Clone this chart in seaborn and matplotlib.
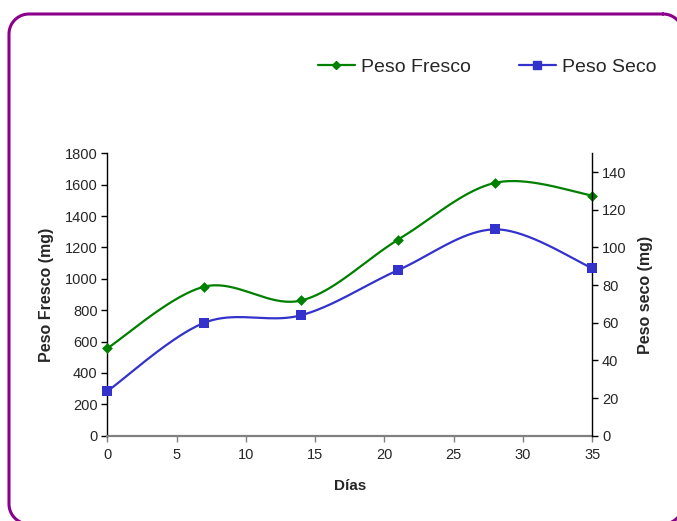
import numpy as np
import pandas as pd
import matplotlib
matplotlib.use("Agg")
import matplotlib.pyplot as plt
from matplotlib.lines import Line2D
import seaborn as sns

# Growth measurements
dias = [0, 7, 14, 21, 28, 35]
peso_fresco = [557, 950, 862, 1250, 1612, 1531]   # mg, left axis
peso_seco = [23.6, 60, 64, 88, 109.6, 89]          # mg, right axis

x_ticks = [0, 5, 10, 15, 20, 25, 30, 35]
y_ticks_fresco = [0, 200, 400, 600, 800, 1000, 1200, 1400, 1600, 1800]
y_ticks_seco = [0, 20, 40, 60, 80, 100, 120, 140]

GREEN = "#008000"
BLUE = "#3333CC"
PURPLE = "#8B008B"

sns.set_style("white")
plt.rcParams["font.family"] = ["Liberation Sans", "DejaVu Sans"]


def smooth_curve(x, y, steps=40):
    """Catmull-Rom style smoothing through every measured point."""
    x = np.asarray(x, float)
    y = np.asarray(y, float)
    px = np.concatenate([[x[0]], x, [x[-1]]])
    py = np.concatenate([[y[0]], y, [y[-1]]])
    xs, ys = [], []
    t = np.linspace(0, 1, steps)
    for i in range(1, len(px) - 2):
        p0 = np.array([px[i], py[i]])
        p3 = np.array([px[i + 1], py[i + 1]])
        c1 = p0 + (np.array([px[i + 1], py[i + 1]]) - np.array([px[i - 1], py[i - 1]])) / 6
        c2 = p3 - (np.array([px[i + 2], py[i + 2]]) - np.array([px[i], py[i]])) / 6
        b = ((1 - t) ** 3)[:, None] * p0 + (3 * (1 - t) ** 2 * t)[:, None] * c1 \
            + (3 * (1 - t) * t ** 2)[:, None] * c2 + (t ** 3)[:, None] * p3
        xs.append(b[:, 0])
        ys.append(b[:, 1])
    return np.concatenate(xs), np.concatenate(ys)


def rounded_rect(x0, y0, x1, y1, r, n=20):
    """Outline of a rounded rectangle in pixel units (y downwards)."""
    pts = []
    corners = [(x1 - r, y0 + r, -90, 0), (x1 - r, y1 - r, 0, 90),
               (x0 + r, y1 - r, 90, 180), (x0 + r, y0 + r, 180, 270)]
    for cx, cy, a0, a1 in corners:
        a = np.radians(np.linspace(a0, a1, n))
        pts.extend(zip(cx + r * np.cos(a), cy + r * np.sin(a)))
    pts.append(pts[0])
    return np.array(pts)


W, H = 677, 521
fig = plt.figure(figsize=(W / 100, H / 100), dpi=100)
fig.patch.set_facecolor("white")

# rounded purple frame around the chart
outline = rounded_rect(9, 14, 683, 524, 20)
fig.add_artist(Line2D(outline[:, 0] / W, 1 - outline[:, 1] / H,
                      transform=fig.transFigure, color=PURPLE, linewidth=2.2,
                      solid_joinstyle="round", zorder=0))

ax = fig.add_axes([107.3 / W, (H - 435.7) / H, (592.3 - 107.3) / W, (435.7 - 153.3) / H])
ax.set_facecolor("none")
ax2 = ax.twinx()

df = pd.DataFrame({"Dias": dias, "Fresco": peso_fresco, "Seco": peso_seco})

sx, sy = smooth_curve(df["Dias"], df["Fresco"])
sns.lineplot(x=sx, y=sy, ax=ax, color=GREEN, linewidth=1.6, sort=False,
             estimator=None, legend=False)
sns.scatterplot(data=df, x="Dias", y="Fresco", ax=ax, color=GREEN, marker="D",
                s=30, edgecolor=GREEN, linewidth=0, zorder=5, legend=False,
                clip_on=False)

bx, by = smooth_curve(df["Dias"], df["Seco"])
sns.lineplot(x=bx, y=by, ax=ax2, color=BLUE, linewidth=1.6, sort=False,
             estimator=None, legend=False)
sns.scatterplot(data=df, x="Dias", y="Seco", ax=ax2, color=BLUE, marker="s",
                s=45, edgecolor=BLUE, linewidth=0, zorder=5, legend=False,
                clip_on=False)

ax.set_xlim(0, 35)
ax.set_ylim(0, 1800)
ax2.set_ylim(0, 150)
ax.set_xticks(x_ticks)
ax.set_yticks(y_ticks_fresco)
ax2.set_yticks(y_ticks_seco)

ax.set_xlabel("Días", fontsize=11, fontweight="bold", labelpad=12)
ax.set_ylabel("Peso Fresco (mg)", fontsize=11.5, fontweight="bold", labelpad=8)
ax2.set_ylabel("Peso seco (mg)", fontsize=11.5, fontweight="bold", labelpad=8)

for a in (ax, ax2):
    for s in a.spines.values():
        s.set_visible(False)
ax.spines["left"].set_visible(True)
ax.spines["left"].set_color("black")
ax.spines["left"].set_linewidth(1.0)
ax.spines["bottom"].set_visible(True)
ax.spines["bottom"].set_color("#808080")
ax.spines["bottom"].set_linewidth(1.6)
ax2.spines["right"].set_visible(True)
ax2.spines["right"].set_color("black")
ax2.spines["right"].set_linewidth(1.0)

ax.tick_params(axis="y", direction="out", length=4, width=1, color="black",
               labelsize=10.5, pad=3, left=True)
ax.tick_params(axis="x", direction="out", length=4, width=1, color="#808080",
               labelsize=10.5, pad=5, bottom=True)
ax2.tick_params(axis="y", direction="out", length=4, width=1, color="black",
                labelsize=10.5, pad=3, right=True)
ax.grid(False)
ax2.grid(False)

handles = [
    Line2D([0], [0], color=GREEN, lw=1.6, marker="D", markersize=4.5),
    Line2D([0], [0], color=BLUE, lw=1.6, marker="s", markersize=5.5),
]
fig.legend(handles, ["Peso Fresco", "Peso Seco"], loc="center",
           bbox_to_anchor=(487 / W, 1 - 67 / H), ncol=2, frameon=False,
           fontsize=14, handlelength=1.9, handletextpad=0.3,
           columnspacing=2.5)

fig.savefig("out.png", dpi=100, facecolor="white")
